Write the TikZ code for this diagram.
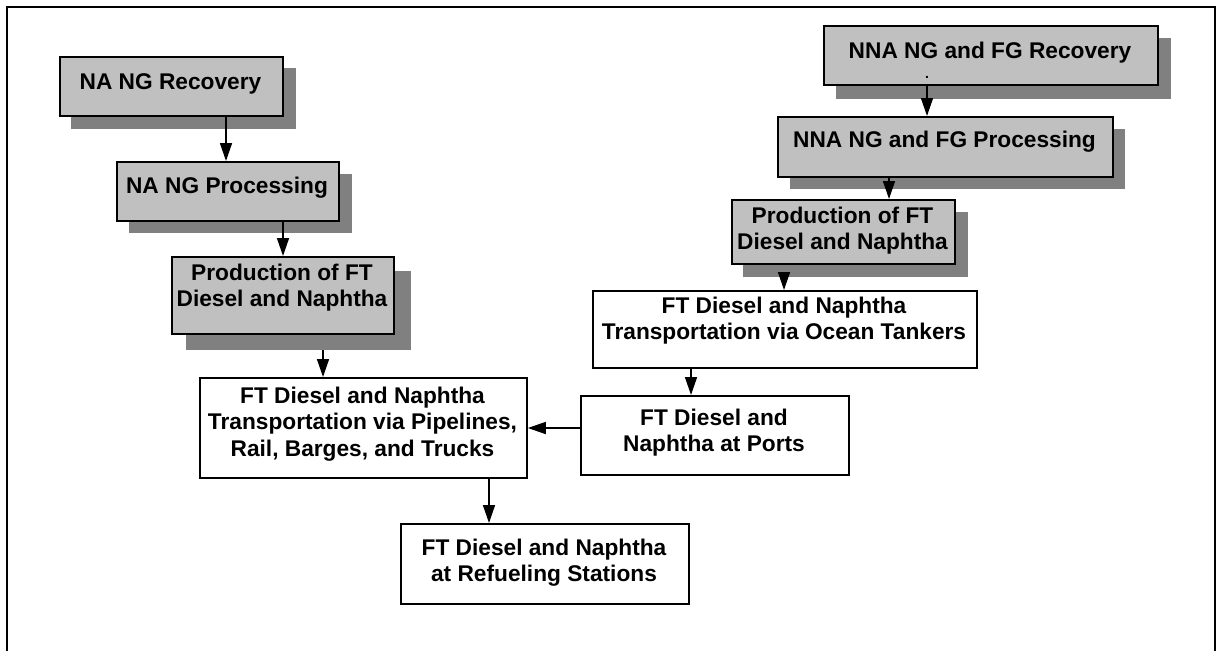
\documentclass[tikz,border=0pt]{standalone}
\usepackage{fontspec}
\setmainfont{Liberation Sans}
\usetikzlibrary{arrows.meta}
\definecolor{boxgray}{HTML}{C0C0C0}
\definecolor{shadegray}{HTML}{808080}
\tikzset{
  gbox/.style={draw=black, line width=1.8pt, fill=boxgray, rectangle, inner sep=0pt, anchor=north west},
  wbox/.style={draw=black, line width=1.8pt, fill=white, rectangle, inner sep=0pt, anchor=north west},
  shade/.style={fill=shadegray, draw=none, rectangle, inner sep=0pt, anchor=north west},
  lbl/.style={font=\fontsize{22.7}{26.5}\selectfont\bfseries, align=center, inner sep=0pt, anchor=north},
  arr/.style={line width=1.5pt, -{Triangle[length=18pt,width=12pt]}},
  frame/.style={line width=2.3pt}
}
\begin{document}
\begin{tikzpicture}[x=1pt,y=-1pt]
\useasboundingbox (0,0) rectangle (1217,651);
\draw[frame] (7,651) -- (7,7) -- (1215,7) -- (1215,651);

% shadows
\node[shade, minimum width=225pt, minimum height=61pt] (s1) at (71,68) {};
\node[shade, minimum width=223pt, minimum height=59pt] (s2) at (129,174) {};
\node[shade, minimum width=225pt, minimum height=79pt] (s3) at (186,271) {};
\node[shade, minimum width=335pt, minimum height=61pt] (s6) at (836,38) {};
\node[shade, minimum width=335pt, minimum height=60pt] (s7) at (790,129) {};
\node[shade, minimum width=225pt, minimum height=65pt] (s8) at (743,212) {};

% boxes
\node[gbox, minimum width=223pt, minimum height=59pt] (b1) at (59,56) {};
\node[gbox, minimum width=222pt, minimum height=59pt] (b2) at (116,161) {};
\node[gbox, minimum width=222pt, minimum height=77pt] (b3) at (171,256) {};
\node[wbox, minimum width=327pt, minimum height=100pt] (b4) at (199,377) {};
\node[wbox, minimum width=288pt, minimum height=80pt] (b5) at (400,523) {};
\node[gbox, minimum width=334pt, minimum height=59pt] (b6) at (823,25) {};
\node[gbox, minimum width=335pt, minimum height=60pt] (b7) at (777,116) {};
\node[gbox, minimum width=223pt, minimum height=64pt] (b8) at (731,199) {};
\node[wbox, minimum width=384pt, minimum height=77pt] (b9) at (592,290) {};
\node[wbox, minimum width=268pt, minimum height=79pt] (b10) at (580,395) {};

% labels
\node[lbl] (t1) at (170.5,73.5) {NA NG Recovery};
\node[lbl] (t2) at (227,176.5) {NA NG Processing};
\node[lbl] (t3) at (282,263.5) {Production of FT\\Diesel and Naphtha};
\node[lbl] (t4) at (362.5,386.5) {FT Diesel and Naphtha\\Transportation via Pipelines,\\Rail, Barges, and Trucks};
\node[lbl] (t5) at (544,538.5) {FT Diesel and Naphtha\\at Refueling Stations};
\node[lbl] (t6) at (990,41.5) {NNA NG and FG Recovery};
\node[font=\fontsize{14}{16}\selectfont\bfseries, inner sep=0pt, anchor=base] (dot) at (927,78) {.};
\node[lbl] (t7) at (944.5,130.5) {NNA NG and FG Processing};
\node[lbl] (t8) at (842.5,206.5) {Production of FT\\Diesel and Naphtha};
\node[lbl] (t9) at (784,296.5) {FT Diesel and Naphtha\\Transportation via Ocean Tankers};
\node[lbl] (t10) at (714,408.5) {FT Diesel and\\Naphtha at Ports};

% connector x positions
\coordinate (x1) at (226,0);
\coordinate (x2) at (283,0);
\coordinate (x3) at (323,0);
\coordinate (x4) at (489,0);
\coordinate (x6) at (927,0);
\coordinate (x7) at (889,0);
\coordinate (x8) at (784,0);
\coordinate (x9) at (691,0);
\coordinate (y10) at (0,428);

% connectors
\draw[arr] (b1.south -| x1) -- (b2.north -| x1);
\draw[arr] (b2.south -| x2) -- (b3.north -| x2);
\draw[arr] (s3.south -| x3) -- (b4.north -| x3);
\draw[arr] (b4.south -| x4) -- (b5.north -| x4);
\draw[arr] (b6.south -| x6) -- (b7.north -| x6);
\draw[arr] (b7.south -| x7) -- (b8.north -| x7);
\draw[arr] (s8.south -| x8) -- (b9.north -| x8);
\draw[arr] (b9.south -| x9) -- (b10.north -| x9);
\draw[arr] (b10.west |- y10) -- (b4.east |- y10);
\end{tikzpicture}
\end{document}
